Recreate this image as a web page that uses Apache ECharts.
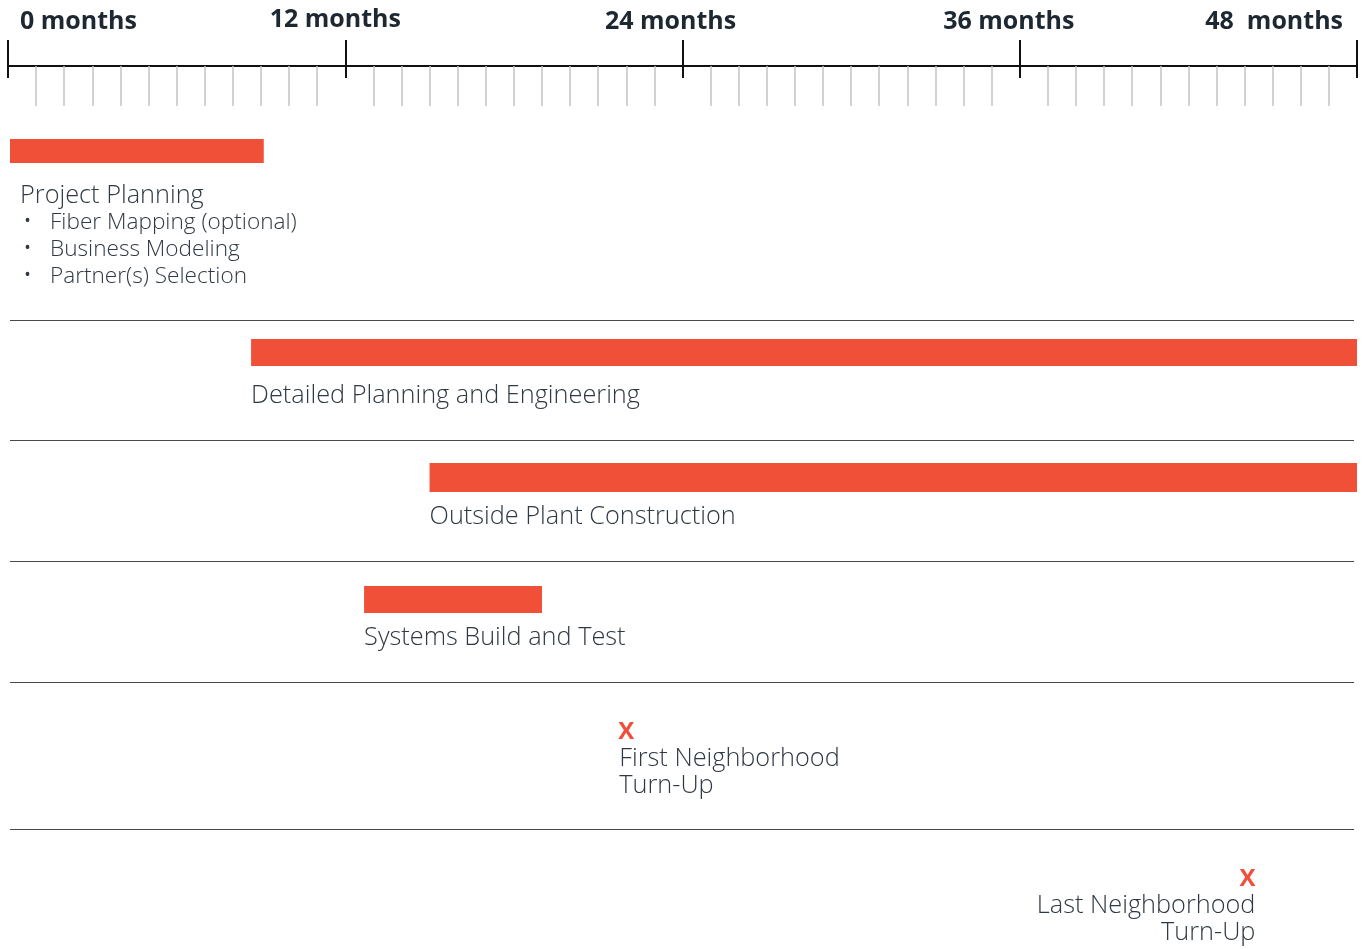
<!DOCTYPE html>
<html>
<head>
<meta charset="utf-8">
<script src="https://cdn.jsdelivr.net/npm/echarts@6/dist/echarts.min.js"></script>
<style>
html, body { margin: 0; padding: 0; background: #fff; }
#main { width: 1369px; height: 949px; }
</style>
</head>
<body>
<div id="main"></div>
<script>
// data: months on the timeline
var tickLabels = ['0 months', '12 months', '24 months', '36 months', '48  months'];
var taskNames = ['Project Planning', 'Detailed Planning and Engineering', 'Outside Plant Construction', 'Systems Build and Test'];
var taskStart = [0, 8.65, 15, 12.67];
var taskEnd = [9.1, 48, 48, 19];
var planningItems = ['Fiber Mapping (optional)', 'Business Modeling', 'Partner(s) Selection'];
var milestoneNames = ['First Neighborhood\nTurn-Up', 'Last Neighborhood\nTurn-Up'];
var milestoneMonth = [22, 44.1];

// layout / style (pixels)
var RED = '#f04f38';
var TXT = '#2f3843';
var FONT = '"Open Sans", "Liberation Sans", sans-serif';
var barY = [139, 339, 463, 586];
var barH = [24, 27, 29, 27];
var labelY = [196, 396, 517, 638];
var labelDx = [12, 0, 0, 0];
var sepY = [320, 440, 561, 682, 829];
var markY = [732, 879];

var chart = echarts.init(document.getElementById('main'));

var taskData = [];
for (var i = 0; i < taskNames.length; i++) {
  taskData.push([taskStart[i], taskEnd[i], i]);
}
var markData = [];
for (var j = 0; j < milestoneMonth.length; j++) {
  markData.push([milestoneMonth[j], j]);
}

function txt(x, y, s, size, align, extra) {
  var st = {
    text: s, fill: TXT, fontSize: size, fontFamily: FONT, fontWeight: 300,
    align: align || 'left', verticalAlign: 'middle'
  };
  if (extra) for (var k in extra) st[k] = extra[k];
  return { type: 'text', x: x, y: y, style: st };
}

function renderTask(params, api) {
  var i = api.value(2);
  var x0 = api.coord([api.value(0), 0])[0];
  var x1 = api.coord([api.value(1), 0])[0];
  var kids = [{
    type: 'rect',
    shape: { x: x0 + (i === 0 ? 2 : 0), y: barY[i], width: x1 - x0 - (i === 0 ? 2 : 0), height: barH[i] },
    style: { fill: RED }
  }];
  kids.push(txt(x0 + labelDx[i], labelY[i], taskNames[i], 25.3));
  if (i === 0) {
    for (var k = 0; k < planningItems.length; k++) {
      kids.push(txt(x0 + 15, 222 + k * 27, '•', 24));
      kids.push(txt(x0 + 42, 223 + k * 27, planningItems[k], 22.6));
    }
  }
  return { type: 'group', children: kids };
}

function renderMark(params, api) {
  var j = api.value(1);
  var x = api.coord([api.value(0), 0])[0];
  var y = markY[j];
  var first = j === 0;
  var tx = first ? x - 7 : x + 8;
  var align = first ? 'left' : 'right';
  return {
    type: 'group',
    children: [
      txt(x, y, 'X', 24, 'center', { fill: RED, fontWeight: 'bold' }),
      txt(tx, y + 27, milestoneNames[j].split('\n')[0], 25.3, align),
      txt(tx, y + 54, milestoneNames[j].split('\n')[1], 25.3, align)
    ]
  };
}

function renderSep(params, api) {
  var cs = params.coordSys;
  var y = sepY[params.dataIndex] + 0.5;
  return {
    type: 'line',
    shape: { x1: cs.x + 2, y1: y, x2: cs.x + cs.width - 3, y2: y },
    style: { stroke: '#4a4a4a', lineWidth: 1 }
  };
}

var option = {
  animation: false,
  backgroundColor: '#fff',
  grid: [
    { left: 8, right: 12, top: 66, bottom: 0, outerBoundsMode: 'none' },
    { left: 8, right: 12, top: 66, bottom: 0, outerBoundsMode: 'none' }
  ],
  xAxis: [{
    gridIndex: 0, type: 'value', position: 'top', min: 0, max: 48, interval: 12,
    axisLine: { show: true, onZero: false, lineStyle: { color: '#111', width: 2 } },
    axisTick: { show: true, length: 26, lineStyle: { color: '#111', width: 2 } },
    splitLine: { show: false },
    axisLabel: {
      margin: 32, alignMinLabel: 'left', alignMaxLabel: 'right',
      color: '#1e2833', fontFamily: FONT, fontWeight: 'bold', fontSize: 25,
      formatter: function (v) {
        var i = Math.round(v / 12);
        var key = i === 0 ? 'l' : (i === 4 ? 'r' : 'm' + i);
        return '{' + key + '|' + tickLabels[i] + '}';
      },
      rich: {
        l: { padding: [0, 0, 0, 12] },
        m1: { padding: [0, 20, 2, 0] },
        m2: { padding: [0, 24, 0, 0] },
        m3: { padding: [0, 22, 0, 0] },
        r: { padding: [0, 14, 0, 0] }
      }
    }
  }, {
    gridIndex: 1, type: 'value', position: 'top', min: 0, max: 48, interval: 12,
    axisLine: { show: false, onZero: false },
    axisTick: { show: true, inside: true, length: 12, lineStyle: { color: '#111', width: 2 } },
    minorTick: { show: true, splitNumber: 12, length: 40, lineStyle: { color: '#c4c4c4', width: 1.5 } },
    axisLabel: { show: false },
    splitLine: { show: false }
  }],
  yAxis: [
    { gridIndex: 0, type: 'value', min: 0, max: 1, show: false },
    { gridIndex: 1, type: 'value', min: 0, max: 1, show: false }
  ],
  series: [
    { type: 'custom', xAxisIndex: 0, yAxisIndex: 0, data: sepY.map(function (v, k) { return [0, k]; }), renderItem: renderSep, silent: true },
    { type: 'custom', xAxisIndex: 0, yAxisIndex: 0, data: taskData, renderItem: renderTask, silent: true },
    { type: 'custom', xAxisIndex: 0, yAxisIndex: 0, data: markData, renderItem: renderMark, silent: true }
  ]
};

chart.setOption(option);
</script>
</body>
</html>
